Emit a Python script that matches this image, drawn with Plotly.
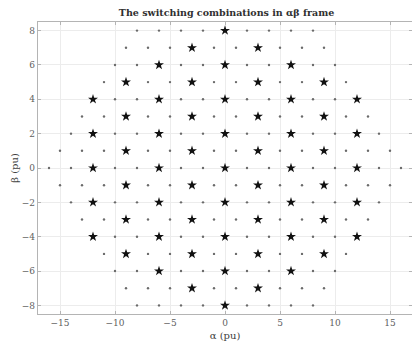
import plotly.graph_objects as go

# Rows of the αβ plane (β value of each row, top to bottom)
beta_rows = [8, 7, 6, 5, 4, 3, 2, 1, 0, -1, -2, -3, -4, -5, -6, -7, -8]

# α positions of every switching combination on each row
dot_alpha_rows = [
    [-8, -6, -4, -2, 0, 2, 4, 6, 8],
    [-9, -7, -5, -3, -1, 1, 3, 5, 7, 9],
    [-10, -8, -6, -4, -2, 0, 2, 4, 6, 8, 10],
    [-11, -9, -7, -5, -3, -1, 1, 3, 5, 7, 9, 11],
    [-12, -10, -8, -6, -4, -2, 0, 2, 4, 6, 8, 10, 12],
    [-13, -11, -9, -7, -5, -3, -1, 1, 3, 5, 7, 9, 11, 13],
    [-14, -12, -10, -8, -6, -4, -2, 0, 2, 4, 6, 8, 10, 12, 14],
    [-15, -13, -11, -9, -7, -5, -3, -1, 1, 3, 5, 7, 9, 11, 13, 15],
    [-16, -14, -12, -10, -8, -6, -4, -2, 0, 2, 4, 6, 8, 10, 12, 14, 16],
    [-15, -13, -11, -9, -7, -5, -3, -1, 1, 3, 5, 7, 9, 11, 13, 15],
    [-14, -12, -10, -8, -6, -4, -2, 0, 2, 4, 6, 8, 10, 12, 14],
    [-13, -11, -9, -7, -5, -3, -1, 1, 3, 5, 7, 9, 11, 13],
    [-12, -10, -8, -6, -4, -2, 0, 2, 4, 6, 8, 10, 12],
    [-11, -9, -7, -5, -3, -1, 1, 3, 5, 7, 9, 11],
    [-10, -8, -6, -4, -2, 0, 2, 4, 6, 8, 10],
    [-9, -7, -5, -3, -1, 1, 3, 5, 7, 9],
    [-8, -6, -4, -2, 0, 2, 4, 6, 8],
]

# α positions of the highlighted (star) combinations on each row
star_alpha_rows = [
    [0],
    [-3, 3],
    [-6, 0, 6],
    [-9, -3, 3, 9],
    [-12, -6, 0, 6, 12],
    [-9, -3, 3, 9],
    [-12, -6, 0, 6, 12],
    [-9, -3, 3, 9],
    [-12, -6, 0, 6, 12],
    [-9, -3, 3, 9],
    [-12, -6, 0, 6, 12],
    [-9, -3, 3, 9],
    [-12, -6, 0, 6, 12],
    [-9, -3, 3, 9],
    [-6, 0, 6],
    [-3, 3],
    [0],
]

x_ticks = [-15, -10, -5, 0, 5, 10, 15]
y_ticks = [-8, -6, -4, -2, 0, 2, 4, 6, 8]


def flatten(rows):
    xs, ys = [], []
    for b, row in zip(beta_rows, rows):
        for a in row:
            xs.append(a)
            ys.append(b)
    return xs, ys


dot_x, dot_y = flatten(dot_alpha_rows)
star_x, star_y = flatten(star_alpha_rows)

fig = go.Figure()
fig.add_trace(go.Scatter(
    x=dot_x, y=dot_y, mode="markers",
    marker=dict(symbol="circle", size=2.4, color="#6a6a6a", line=dict(width=0)),
    hoverinfo="x+y", showlegend=False,
))
fig.add_trace(go.Scatter(
    x=star_x, y=star_y, mode="markers",
    marker=dict(symbol="star", size=7.5, color="#111111", line=dict(width=0)),
    hoverinfo="x+y", showlegend=False,
))

axis_common = dict(
    showgrid=True, gridcolor="#ececec", gridwidth=1,
    zeroline=False,
    showline=True, linecolor="#b4b4b4", linewidth=1.2, mirror="ticks",
    ticks="inside", ticklen=3, tickcolor="#b4b4b4", tickwidth=1,
    tickfont=dict(family="DejaVu Serif", size=9, color="#606060"),
)

fig.update_layout(
    width=412, height=346,
    margin=dict(l=38, r=0, t=22, b=32),
    paper_bgcolor="white", plot_bgcolor="white",
    title=dict(
        text="<b>The switching combinations in αβ frame</b>",
        x=0.55, xanchor="center", y=0.962, yanchor="middle",
        font=dict(family="DejaVu Serif", size=9.5, color="#303030"),
    ),
    xaxis=dict(
        range=[-17, 17], tickvals=x_ticks,
        title=dict(text="α (pu)", standoff=5,
                   font=dict(family="DejaVu Serif", size=10, color="#404040")),
        **axis_common,
    ),
    yaxis=dict(
        range=[-8.5, 8.5], tickvals=y_ticks,
        title=dict(text="β (pu)", standoff=1,
                   font=dict(family="DejaVu Serif", size=10, color="#404040")),
        **axis_common,
    ),
)

fig.write_html("out.html")
